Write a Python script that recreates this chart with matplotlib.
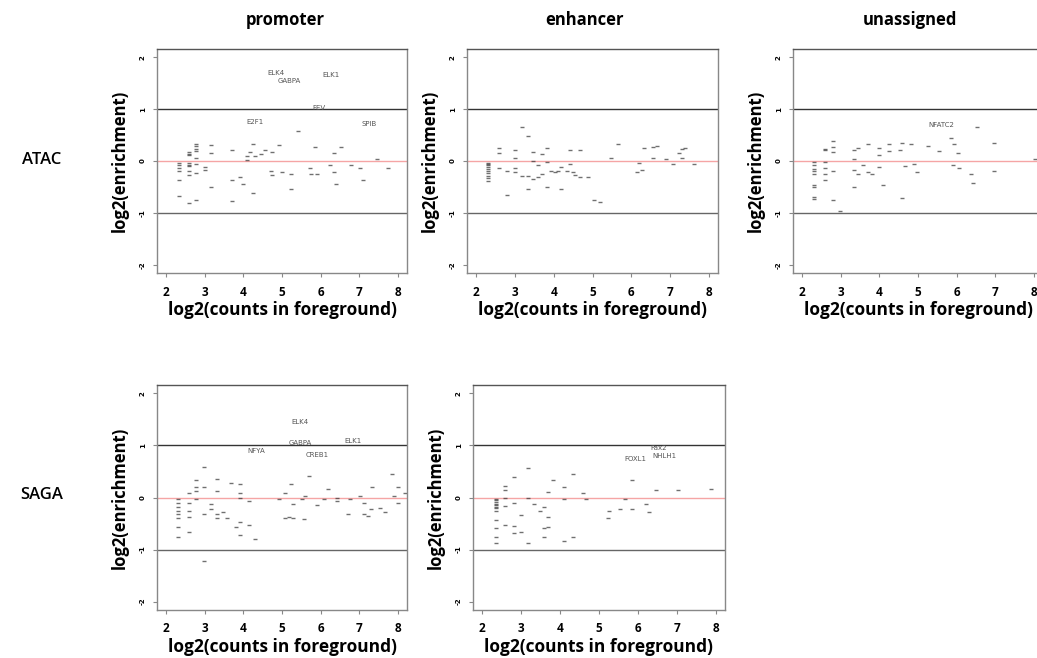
import matplotlib
matplotlib.use("Agg")
import matplotlib.pyplot as plt

# ---------------- data ----------------
col_titles = ["promoter", "enhancer", "unassigned"]
row_titles = ["ATAC", "SAGA"]
x_ticks = [2, 3, 4, 5, 6, 7, 8]
y_ticks = [-2, -1, 0, 1, 2]

atac_prom_x = [2.32]*6 + [2.585]*9 + [2.78]*8 + [3.0, 3.0, 3.17, 3.17, 3.17, 3.7, 3.7, 3.7,
               3.9, 4.0, 4.08, 4.08, 4.17, 4.24, 4.24, 4.31, 4.45, 4.57, 4.71, 4.75, 4.75,
               4.93, 4.99, 5.24, 5.24, 5.42, 5.72, 5.76, 5.86, 5.9, 6.24, 6.35, 6.35, 6.39,
               6.54, 6.79, 7.02, 7.09, 7.46, 7.74]
atac_prom_y = [-0.03, -0.07, -0.13, -0.19, -0.37, -0.68,
               0.17, 0.14, 0.11, -0.04, -0.07, -0.10, -0.19, -0.27, -0.81,
               0.33, 0.28, 0.24, 0.19, 0.06, -0.06, -0.24, -0.76,
               -0.12, -0.17, 0.30, 0.15, -0.50, 0.21, -0.36, -0.78,
               -0.31, -0.44, 0.10, 0.01, 0.17, 0.32, -0.61, 0.09, 0.13, 0.21, -0.19, 0.17, -0.27,
               0.30, -0.22, -0.25, -0.54, 0.58, -0.14, -0.25, 0.27, -0.25, -0.07, 0.15, -0.22, -0.45,
               0.27, -0.07, -0.14, -0.37, 0.03, -0.14]
atac_prom_labels = ["ELK4", "GABPA", "ELK1", "FEV", "E2F1", "SPIB"]
atac_prom_lx = [4.84, 5.18, 6.26, 5.96, 4.30, 7.27]
atac_prom_ly = [1.70, 1.55, 1.66, 1.03, 0.75, 0.71]

atac_enh_x = [2.31]*10 + [2.58]*3 + [2.79]*2 + [3.0]*4 + [3.18]*2 + [3.33]*3 + [3.46]*3 + \
             [3.59]*2 + [3.7]*2 + [3.83]*3 + [3.93, 4.02, 4.1, 4.18, 4.18, 4.33, 4.41, 4.41,
             4.49, 4.55, 4.67, 4.67, 4.88, 5.03, 5.2, 5.49, 5.67, 6.14, 6.2, 6.29, 6.32,
             6.55, 6.55, 6.66, 6.91, 7.09, 7.23, 7.3, 7.3, 7.39, 7.63]
atac_enh_y = [-0.03, -0.05, -0.08, -0.12, -0.15, -0.19, -0.23, -0.28, -0.32, -0.39,
              0.25, 0.15, -0.14, -0.19, -0.66, 0.21, 0.06, -0.14, -0.22, 0.65, -0.29,
              0.48, -0.28, -0.54, 0.17, 0.0, -0.34, -0.07, -0.31, 0.13, -0.26,
              0.25, -0.02, -0.51, -0.19, -0.22, -0.19, -0.12, -0.54, -0.19, 0.21, -0.05,
              -0.22, -0.27, 0.21, -0.31, -0.31, -0.76, -0.79, 0.06, 0.33, -0.22, -0.04, -0.17, 0.25,
              0.27, 0.06, 0.28, 0.03, -0.05, 0.15, 0.23, 0.06, 0.25, -0.05]
atac_enh_labels = []
atac_enh_lx = []
atac_enh_ly = []

atac_una_x = [2.31]*9 + [2.59]*6 + [2.79]*5 + [2.98] + [3.33]*4 + [3.45]*2 + [3.58] + [3.7]*2 + \
             [3.82] + [4.0]*3 + [4.1, 4.25, 4.25, 4.54, 4.59, 4.59, 4.66, 4.82, 4.9, 4.97, 5.27,
             5.55, 5.85, 5.9, 5.94, 6.03, 6.07, 6.37, 6.43, 6.52, 6.97, 6.97, 8.04]
atac_una_y = [-0.02, -0.07, -0.15, -0.20, -0.26, -0.46, -0.50, -0.70, -0.74,
              0.24, 0.21, -0.02, -0.14, -0.25, -0.37, 0.39, 0.27, 0.17, -0.19, -0.76, -0.97,
              0.21, 0.03, -0.17, -0.51, 0.25, -0.25, -0.07, 0.33, -0.22, -0.25, 0.25, 0.12, -0.12,
              -0.46, 0.33, 0.19, 0.21, 0.35, -0.71, -0.09, 0.33, -0.05, -0.22, 0.28,
              0.19, 0.45, -0.07, 0.33, 0.15, -0.14, -0.25, -0.42, 0.65, 0.35, -0.19, 0.03]
atac_una_labels = ["NFATC2"]
atac_una_lx = [5.6]
atac_una_ly = [0.69]

saga_prom_x = [2.3]*8 + [2.58]*5 + [2.78]*4 + [2.99]*4 + [3.16]*2 + [3.32]*4 + [3.47, 3.58, 3.69,
               3.81] + [3.91]*5 + [4.15, 4.15, 4.31, 4.93, 5.07, 5.07, 5.19, 5.24, 5.29, 5.29,
               5.52, 5.57, 5.6, 5.7, 5.9, 6.09, 6.2, 6.43, 6.43, 6.7, 6.77, 7.03, 7.13, 7.13,
               7.23, 7.3, 7.33, 7.53, 7.67, 7.86, 7.91, 8.0, 8.0, 8.2]
saga_prom_y = [-0.03, -0.10, -0.18, -0.25, -0.32, -0.39, -0.57, -0.76,
               0.08, -0.10, -0.25, -0.37, -0.67, 0.34, 0.21, 0.12, -0.02,
               0.59, 0.21, -0.32, -1.21, -0.12, -0.22, 0.35, 0.12, -0.32, -0.39,
               -0.27, -0.39, 0.28, -0.57, 0.25, 0.08, 0.0, -0.47, -0.72,
               -0.07, -0.52, -0.79, -0.02, 0.08, -0.39, -0.37, 0.25, -0.12, -0.39,
               -0.02, -0.42, 0.03, 0.42, -0.15, -0.02, 0.17, 0.0, -0.07, -0.32, -0.02, 0.03,
               -0.10, -0.32, -0.35, -0.22, 0.20, -0.20, -0.27, 0.45, 0.03, 0.20, -0.10, 0.08]
saga_prom_labels = ["ELK4", "GABPA", "ELK1", "NFYA", "CREB1"]
saga_prom_lx = [5.47, 5.47, 6.83, 4.33, 5.92]
saga_prom_ly = [1.45, 1.04, 1.08, 0.90, 0.82]

saga_enh_x = [2.34]*12 + [2.59]*5 + [2.81]*4 + [3.0]*2 + [3.18]*3 + [3.32, 3.47] + [3.59]*3 + \
             [3.7]*3 + [3.81] + [4.1]*3 + [4.32]*2 + [4.59, 4.66, 5.22, 5.26, 5.53, 5.68, 5.86,
             5.86, 6.22, 6.28, 6.46, 7.02, 7.88]
saga_enh_y = [-0.02, -0.05, -0.08, -0.12, -0.15, -0.18, -0.21, -0.25, -0.44, -0.59, -0.76, -0.87,
              0.23, 0.15, 0.0, -0.17, -0.52, 0.40, -0.10, -0.55, -0.69, -0.34, -0.66,
              0.57, 0.0, -0.87, -0.12, -0.25, -0.19, -0.59, -0.76, 0.10, -0.37, -0.57, 0.34,
              0.20, -0.02, -0.84, 0.45, -0.76, 0.08, -0.02, -0.39, -0.25, -0.22, -0.02, 0.34,
              -0.22, -0.12, -0.27, 0.15, 0.15, 0.17]
saga_enh_labels = ["Pax2", "NHLH1", "FOXL1"]
saga_enh_lx = [6.53, 6.67, 5.94]
saga_enh_ly = [0.96, 0.80, 0.74]

# ---------------- layout ----------------
W, H = 1037, 658
fig = plt.figure(figsize=(W / 100, H / 100), dpi=100)

def add_ax(left, right, top, bottom):
    return fig.add_axes([left / W, 1 - bottom / H, (right - left) / W, (bottom - top) / H])

panels = [
    ((157, 407, 49, 273), atac_prom_x, atac_prom_y, atac_prom_labels, atac_prom_lx, atac_prom_ly),
    ((467, 718, 49, 273), atac_enh_x, atac_enh_y, atac_enh_labels, atac_enh_lx, atac_enh_ly),
    ((793, 1043, 49, 273), atac_una_x, atac_una_y, atac_una_labels, atac_una_lx, atac_una_ly),
    ((157, 407, 385, 610), saga_prom_x, saga_prom_y, saga_prom_labels, saga_prom_lx, saga_prom_ly),
    ((473, 725, 385, 610), saga_enh_x, saga_enh_y, saga_enh_labels, saga_enh_lx, saga_enh_ly),
]

for box, xs, ys, labs, lx, ly in panels:
    ax = add_ax(*box)
    ax.set_xlim(1.76, 8.24)
    ax.set_ylim(-2.16, 2.16)
    ax.axhline(1, color="#333333", lw=1.0, zorder=1)
    ax.axhline(-1, color="#666666", lw=1.0, zorder=1)
    ax.axhline(0, color="#f5a5a5", lw=1.0, zorder=1)
    ax.plot(xs, ys, linestyle="none", marker="_", markersize=2.4, mew=1.0,
            color="#333333", alpha=0.7, zorder=2)
    for t, a, b in zip(labs, lx, ly):
        ax.text(a, b, t, fontsize=5, color="#555555", ha="center", va="center",
                family="DejaVu Sans")
    ax.set_xticks(x_ticks)
    ax.set_xticklabels([str(v) for v in x_ticks], fontsize=8.5, fontweight="bold",
                       family="Open Sans")
    ax.set_yticks(y_ticks)
    ax.set_yticklabels([str(v) for v in y_ticks], fontsize=5, fontweight="bold",
                       rotation=90, va="center", family="DejaVu Sans")
    ax.tick_params(axis="both", direction="out", length=3, width=0.8, color="#888888")
    ax.tick_params(axis="x", pad=6)
    ax.tick_params(axis="y", pad=5)
    for s in ax.spines.values():
        s.set_color("#888888")
        s.set_linewidth(1.0)
    ax.spines["top"].set_color("#555555")
    ax.set_xlabel("log2(counts in foreground)", fontsize=12.5, fontweight="bold",
                  family="Open Sans", labelpad=2)
    ax.set_ylabel("log2(enrichment)", fontsize=12, fontweight="bold",
                  family="Open Sans", labelpad=8)

for t, cx in zip(col_titles, [285, 585, 910]):
    fig.text(cx / W, 1 - 20 / H, t, ha="center", va="center", fontsize=12,
             fontweight="bold", family="Open Sans")
for t, cy in zip(row_titles, [160, 495]):
    fig.text(42 / W, 1 - cy / H, t, ha="center", va="center", fontsize=12,
             fontweight="semibold", family="Open Sans")

fig.savefig("out.png", dpi=100)
